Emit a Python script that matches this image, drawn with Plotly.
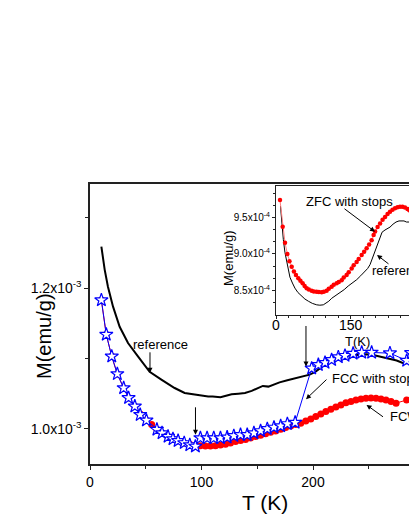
import plotly.graph_objects as go

# ---- main panel data (M in units of 1e-3 emu/g) ----
ref_t = [10.2, 13.2, 16.1, 20.6, 26.6, 34.1, 43.0, 53.5, 64.0, 75.9, 84.9, 96.9,
         106, 110, 117, 122, 127, 133, 139, 145, 151, 155, 160, 165, 170, 177,
         184, 191, 197, 202, 206, 211, 215, 220, 224, 230, 236, 242, 248, 254,
         260, 266, 271, 275, 280, 283, 287]
ref_m = [1.259, 1.226, 1.202, 1.174, 1.145, 1.122, 1.103, 1.081, 1.070, 1.058, 1.051, 1.048,
         1.046, 1.046, 1.045, 1.047, 1.049, 1.050, 1.051, 1.054, 1.058, 1.061, 1.060, 1.063,
         1.066, 1.069, 1.072, 1.074, 1.077, 1.081, 1.086, 1.091, 1.096, 1.100, 1.103, 1.104,
         1.105, 1.106, 1.106, 1.105, 1.103, 1.101, 1.099, 1.097, 1.094, 1.093, 1.095]

fcw_t = [10.2, 14.6, 19.5, 24.5, 30.2, 34.6, 40.2, 45.0, 50.6, 55.3, 60.0, 64.6,
         70.0, 74.4, 79.0, 84.5, 89.5, 94.5, 99, 103.5, 108, 112.5, 117, 121.5,
         126, 130.5, 135, 139.5, 144, 148.5, 153, 157.5, 162, 166.5, 171, 175.5,
         180, 184.5, 189, 193.5, 198, 202.5, 207, 211.5, 216, 220.5, 225, 229.5,
         234, 238.5, 243, 247.5, 252, 256.5, 261, 265.5, 270, 274.5, 284]
fcw_m = [1.183, 1.134, 1.103, 1.078, 1.058, 1.044, 1.032, 1.021, 1.012, 1.006, 0.999, 0.994,
         0.989, 0.986, 0.983, 0.980, 0.978, 0.976, 0.976, 0.9755, 0.9755, 0.976, 0.977, 0.978,
         0.980, 0.982, 0.9835, 0.985, 0.987, 0.989, 0.991, 0.993, 0.995, 0.997, 0.9995, 1.002,
         1.004, 1.006, 1.008, 1.011, 1.014, 1.0175, 1.021, 1.0245, 1.028, 1.031, 1.034, 1.037,
         1.039, 1.041, 1.0425, 1.0435, 1.0437, 1.0435, 1.0425, 1.041, 1.039, 1.0365, 1.041]

fcc_t = [10.2, 14.6, 19.5, 24.5, 30.2, 34.6, 40.2, 45.0, 50.6, 60.0, 64.6, 70.0,
         74.4, 79.0, 84.5, 89.5, 94.5, 99, 105, 111, 117, 123, 129, 135, 141,
         147, 153, 159, 165, 171, 177, 184, 198.8, 204.8, 210.8, 216.7, 222.7,
         228.7, 236, 243.7, 252.6, 269, 284, 288]
fcc_m = [1.183, 1.134, 1.103, 1.078, 1.058, 1.044, 1.032, 1.020, 1.012, 0.999, 0.994, 0.989,
         0.9855, 0.983, 0.980, 0.977, 0.975, 0.987, 0.987, 0.987, 0.987, 0.988, 0.990, 0.9915,
         0.9915, 0.994, 0.997, 1.000, 1.002, 1.004, 1.007, 1.009, 1.086, 1.091, 1.094, 1.098,
         1.102, 1.104, 1.107, 1.1085, 1.1085, 1.1076, 1.097, 1.108]

main_xticks = [0, 100, 200]
main_xticktext = ["0", "100", "200"]
main_yticks = [1.0, 1.2]
main_yticktext = ["1.0x10<sup>-3</sup>", "1.2x10<sup>-3</sup>"]

# ---- inset data (M in units of 1e-4 emu/g) ----
zfc_t = [8.0, 13.4, 18.1, 22.8, 27, 31.5, 36, 40, 44.8, 49, 53.5, 57.5, 61.6, 66,
         71.6, 76, 81.6, 86, 91.7, 96, 101.7, 106, 111.7, 116, 121.8, 126, 131.8,
         136, 141.8, 146, 151.9, 156, 161.9, 166, 172, 177, 182, 187, 192, 196,
         199, 204, 209, 214, 219, 224, 229, 234, 239, 244, 249, 254, 259, 264, 268]
zfc_m = [9.744, 9.375, 9.156, 9.00, 8.90, 8.825, 8.76, 8.71, 8.665, 8.63, 8.596, 8.56,
         8.528, 8.51, 8.495, 8.485, 8.48, 8.478, 8.472, 8.48, 8.495, 8.52, 8.55, 8.575,
         8.596, 8.615, 8.64, 8.675, 8.71, 8.75, 8.80, 8.845, 8.89, 8.93, 8.986, 9.03,
         9.08, 9.13, 9.19, 9.26, 9.31, 9.37, 9.42, 9.47, 9.51, 9.55, 9.58, 9.61, 9.63,
         9.645, 9.65, 9.65, 9.64, 9.62, 9.60]

zref_t = [9, 12, 14.7, 18, 21.4, 25, 28, 33, 38, 44, 51.5, 58, 65, 73, 81.7, 88, 95,
          100, 106, 111.8, 120, 128.5, 137, 145.2, 154, 162, 170, 178.7, 184, 188.8,
          193, 198.8, 204, 208.8, 213, 218.9, 224, 228.9, 235, 241, 247, 252, 257, 262, 268]
zref_m = [9.66, 9.40, 9.20, 9.02, 8.90, 8.77, 8.68, 8.60, 8.53, 8.47, 8.417, 8.38, 8.35,
          8.32, 8.30, 8.295, 8.30, 8.32, 8.35, 8.39, 8.43, 8.463, 8.51, 8.56, 8.60, 8.646,
          8.70, 8.76, 8.80, 8.853, 8.93, 9.02, 9.12, 9.22, 9.30, 9.33, 9.35, 9.37, 9.41,
          9.44, 9.455, 9.46, 9.455, 9.44, 9.44]

inset_xticks = [0, 150, 300]
inset_xticktext = ["0", "150", "300"]
inset_yticks = [8.5, 9.0, 9.5]
inset_yticktext = ["8.5x10<sup>-4</sup>", "9.0x10<sup>-4</sup>", "9.5x10<sup>-4</sup>"]

FONT = "Liberation Sans, Arial, sans-serif"
W, H = 409, 529
L, R, T, B = 90, 0, 184, 65


def px(x, y):
    """pixel position -> paper coords of the main plot area"""
    return (x - L) / (W - L - R), (H - B - y) / (H - T - B)


fig = go.Figure()

fig.add_trace(go.Scatter(x=ref_t, y=ref_m, mode="lines",
                         line=dict(color="black", width=2), showlegend=False))
fig.add_trace(go.Scatter(x=fcw_t, y=fcw_m, mode="lines+markers",
                         line=dict(color="red", width=1),
                         marker=dict(color="red", size=7), showlegend=False))
fig.add_trace(go.Scatter(x=fcc_t, y=fcc_m, mode="lines+markers",
                         line=dict(color="blue", width=1),
                         marker=dict(symbol="star", color="white", size=10,
                                     line=dict(width=1.2, color="blue")),
                         showlegend=False))

fig.add_trace(go.Scatter(x=zref_t, y=zref_m, mode="lines", xaxis="x2", yaxis="y2",
                         line=dict(color="black", width=1), showlegend=False))
fig.add_trace(go.Scatter(x=zfc_t, y=zfc_m, mode="lines+markers", xaxis="x2", yaxis="y2",
                         line=dict(color="#ff8080", width=1),
                         marker=dict(color="red", size=4.5), showlegend=False))

axis_common = dict(showgrid=False, zeroline=False, showline=True, linecolor="#222",
                   ticks="outside", tickcolor="#222")

fig.update_layout(
    width=W, height=H,
    margin=dict(l=L, r=R, t=T, b=B),
    paper_bgcolor="white", plot_bgcolor="white",
    font=dict(family=FONT, color="black"),
    xaxis=dict(axis_common, range=[0, (W - L - R) / 1.115], linewidth=1.5, mirror=True,
               tickvals=main_xticks, ticktext=main_xticktext, ticklen=4, tickwidth=1.2,
               tickfont=dict(size=14),
               minor=dict(tickvals=[50, 150, 250], ticklen=3, tickcolor="#222", ticks="outside")),
    yaxis=dict(axis_common, range=[0.95, 1.348], linewidth=1.5,
               tickvals=main_yticks, ticktext=main_yticktext, ticklen=4, tickwidth=1.2,
               tickfont=dict(size=14),
               minor=dict(tickvals=[1.1, 1.3], ticklen=3, tickcolor="#222", ticks="outside")),
    xaxis2=dict(axis_common, domain=[px(276, 0)[0], 1], anchor="y2",
                range=[0, (W - 276) / 0.498], linewidth=1, mirror=True,
                tickvals=inset_xticks, ticktext=inset_xticktext, ticklen=3,
                tickfont=dict(size=14), ticklabelstandoff=-5,
                minor=dict(dtick=25, tick0=0, ticklen=2, tickcolor="#222", ticks="outside")),
    yaxis2=dict(axis_common, domain=[px(0, 314.5)[1], px(0, 185.7)[1]], anchor="x2",
                range=[8.167, 9.94], linewidth=1,
                tickvals=inset_yticks, ticktext=inset_yticktext, ticklen=3,
                tickfont=dict(size=10),
                minor=dict(dtick=0.5 / 3, tick0=8.5, ticklen=2, tickcolor="#222", ticks="outside")),
)

ann = []


def label(text, x, y, size, xanchor="center", angle=0):
    xp, yp = px(x, y)
    ann.append(dict(text=text, x=xp, y=yp, xref="paper", yref="paper", showarrow=False,
                    xanchor=xanchor, yanchor="middle", textangle=angle,
                    font=dict(size=size, family=FONT, color="black")))


def arrow(xref, yref, x, y, ax, ay):
    ann.append(dict(text="", x=x, y=y, xref=xref, yref=yref, ax=ax, ay=ay,
                    showarrow=True, arrowhead=2, arrowsize=1, arrowwidth=1,
                    arrowcolor="black", font=dict(size=1)))


# axis titles
label("M(emu/g)", 44, 336, 20, angle=-90)
label("T (K)", 265, 502, 21)
label("M(emu/g)", 228, 258, 13, angle=-90)
label("T(K)", 357, 341, 13)

# main panel annotations
label("reference", 160, 344, 13)
label("FCC with stops", 330, 378, 13, xanchor="left")
label("FCW", 388, 416, 13, xanchor="left")
arrow("x", "y", 53.8, 1.0796, 0, -22)
arrow("x", "y", 94.6, 0.9915, 0, -29)
arrow("x", "y", 193.7, 1.0886, 0, -42)
arrow("x", "y", 193.7, 1.0422, 22, -21)
arrow("x", "y", 248, 1.034, 18, 13)

# inset annotations
label("ZFC with stops", 349, 201, 13)
label("reference", 370, 270, 13, xanchor="left")
arrow("x2", "y2", 198.8, 9.307, -32, -24)
arrow("x2", "y2", 202.8, 8.986, 13, 10)

fig.update_layout(annotations=ann)

# page body has an 8px default margin; drop it so the figure sits at the window corner
fig.write_html("out.html", config={"displayModeBar": False},
               post_script="document.body.style.margin='0px';")
